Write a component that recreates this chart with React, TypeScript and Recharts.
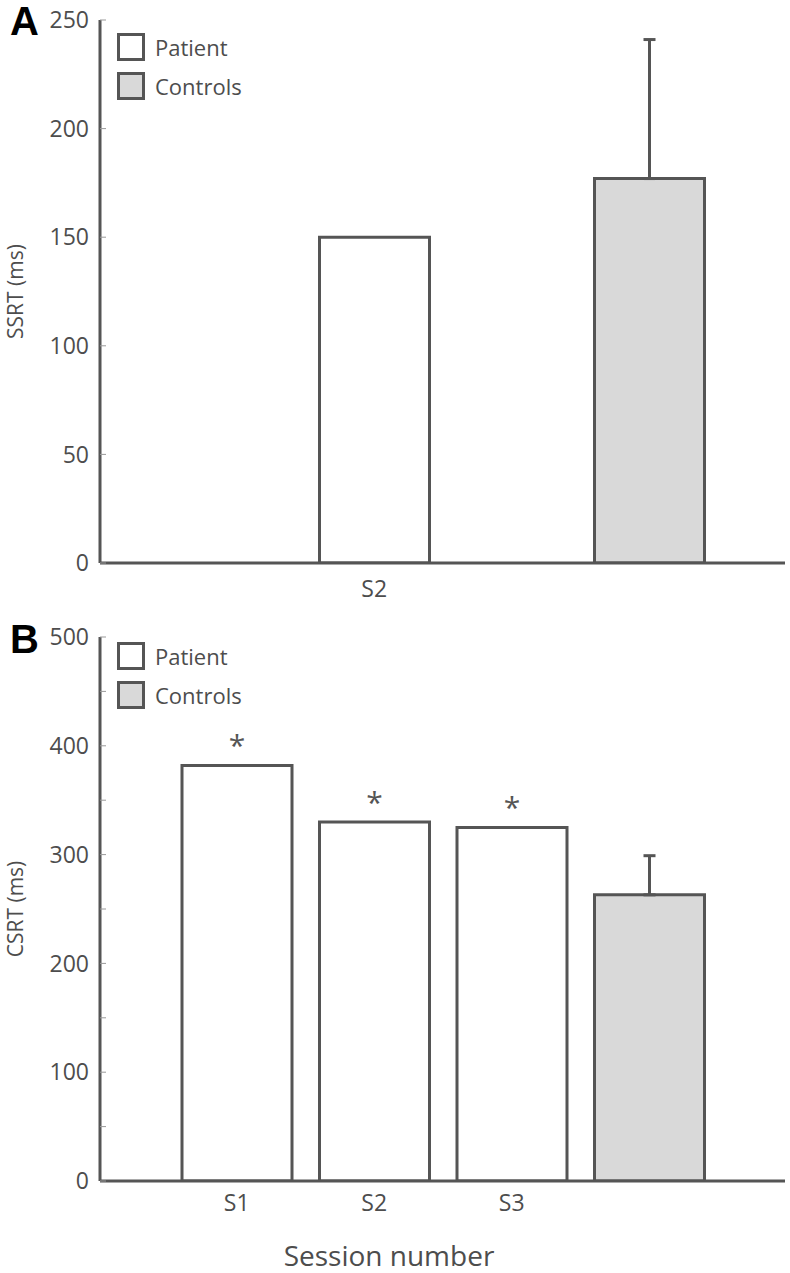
import React from 'react';
import { BarChart, Bar, XAxis, YAxis, ErrorBar, LabelList, Legend } from 'recharts';

const FONT = '"Open Sans", "Noto Sans", sans-serif';
const INK = '#555555';
const TEXT = '#4d4d4d';

// categories (x positions shared by both panels)
const sessions = ['S1', 'S2', 'S3', 'Controls'];
const legendOrder = ['Patient', 'Controls'];

// Panel A: SSRT (ms)
const ssrtPatient = [null, 150, null, null];
const ssrtControls = [null, null, null, 177];
const ssrtControlsErr = [null, null, null, 64];
const ssrtTicks = [0, 50, 100, 150, 200, 250];
const ssrtShownLabels = ['S2'];

// Panel B: CSRT (ms)
const csrtPatient = [382, 330, 325, null];
const csrtControls = [null, null, null, 263];
const csrtControlsErr = [null, null, null, 36];
const csrtSig = ['*', '*', '*', null];
const csrtTicks = [0, 50, 100, 150, 200, 250, 300, 350, 400, 450, 500];
const csrtShownLabels = ['S1', 'S2', 'S3'];

const dataA = sessions.map((s, i) => ({
  session: s,
  patient: ssrtPatient[i],
  controls: ssrtControls[i],
  err: ssrtControlsErr[i] == null ? null : [0, ssrtControlsErr[i]],
}));

const dataB = sessions.map((s, i) => ({
  session: s,
  patient: csrtPatient[i],
  controls: csrtControls[i],
  err: csrtControlsErr[i] == null ? null : [0, csrtControlsErr[i]],
  sig: csrtSig[i],
}));

const LegendContent = (props: any) => {
  const items = [...(props.payload || [])].sort(
    (a: any, b: any) => legendOrder.indexOf(a.value) - legendOrder.indexOf(b.value)
  );
  return (
    <div>
      {items.map((p: any, i: number) => (
        <div key={i} style={{ display: 'flex', alignItems: 'center', height: 39 }}>
          <div
            style={{
              width: 22,
              height: 22,
              border: `3px solid ${INK}`,
              background: p.color,
              boxSizing: 'content-box',
            }}
          />
          <span style={{ marginLeft: 10, fontSize: 22, color: TEXT, fontFamily: FONT }}>{p.value}</span>
        </div>
      ))}
    </div>
  );
};

const makeYLabel = (text: string) => (props: any) => {
  const vb = props.viewBox || {};
  const cy = (vb.y || 0) + (vb.height || 0) / 2;
  const x = 15;
  return (
    <text
      x={x}
      y={cy}
      transform={`rotate(-90, ${x}, ${cy})`}
      textAnchor="middle"
      dominantBaseline="central"
      fill={TEXT}
      fontSize={21}
      fontFamily={FONT}
    >
      {text}
    </text>
  );
};

const SessionLabel = (props: any) => (
  <text x={389} y={666} textAnchor="middle" fill={TEXT} fontSize={28} fontFamily={FONT}>
    Session number
  </text>
);

const tickStyle = { fill: TEXT, fontSize: 23, fontFamily: FONT };

export default function App() {
  return (
    <div style={{ position: 'absolute', left: 0, top: 0, width: 790, height: 1273, background: '#fff' }}>
      <div
        style={{
          position: 'absolute', left: 10, top: 1, fontSize: 40, lineHeight: '40px',
          fontWeight: 'bold', fontFamily: '"Liberation Sans", Arial, sans-serif', color: '#000',
        }}
      >
        A
      </div>
      <div
        style={{
          position: 'absolute', left: 10, top: 619, fontSize: 40, lineHeight: '40px',
          fontWeight: 'bold', fontFamily: '"Liberation Sans", Arial, sans-serif', color: '#000',
        }}
      >
        B
      </div>

      <div style={{ position: 'absolute', left: 0, top: 0 }}>
        <BarChart width={790} height={615} data={dataA} margin={{ top: 20, right: 5, bottom: 0, left: 0 }}>
          <XAxis
            dataKey="session"
            type="category"
            padding={{ left: 68, right: 67 }}
            height={52}
            tickLine={false}
            tickSize={0}
            tickMargin={18}
            axisLine={{ stroke: INK, strokeWidth: 3 }}
            tick={tickStyle}
            interval={0}
            tickFormatter={(v: string) => (ssrtShownLabels.includes(v) ? v : '')}
          />
          <YAxis
            type="number"
            domain={[0, 250]}
            ticks={ssrtTicks}
            interval={0}
            width={100}
            axisLine={{ stroke: INK, strokeWidth: 3 }}
            tickLine={{ stroke: '#999', strokeWidth: 1 }}
            tickSize={-6}
            tickMargin={17}
            tick={tickStyle}
            allowDataOverflow
            label={{ content: makeYLabel('SSRT (ms)') }}
          />
          <Legend
            layout="horizontal"
            verticalAlign="middle"
            align="center"
            content={<LegendContent />}
            wrapperStyle={{ left: 117, top: 27.5, width: 'auto' }}
          />
          <Bar dataKey="patient" name="Patient" stackId="s" fill="#ffffff" stroke={INK} strokeWidth={3} barSize={110} isAnimationActive={false} />
          <Bar dataKey="controls" name="Controls" stackId="s" fill="#d9d9d9" stroke={INK} strokeWidth={3} barSize={110} isAnimationActive={false}>
            <ErrorBar dataKey="err" width={6} stroke={INK} strokeWidth={3} direction="y" isAnimationActive={false} />
          </Bar>
        </BarChart>
      </div>

      <div style={{ position: 'absolute', left: 0, top: 600 }}>
        <BarChart width={790} height={673} data={dataB} margin={{ top: 37, right: 5, bottom: 0, left: 0 }}>
          <XAxis
            dataKey="session"
            type="category"
            padding={{ left: 68, right: 67 }}
            height={92}
            tickLine={false}
            tickSize={0}
            tickMargin={14}
            axisLine={{ stroke: INK, strokeWidth: 3 }}
            tick={tickStyle}
            interval={0}
            tickFormatter={(v: string) => (csrtShownLabels.includes(v) ? v : '')}
            label={{ content: <SessionLabel /> }}
          />
          <YAxis
            type="number"
            domain={[0, 500]}
            ticks={csrtTicks}
            interval={0}
            width={100}
            axisLine={{ stroke: INK, strokeWidth: 3 }}
            tickLine={{ stroke: '#999', strokeWidth: 1 }}
            tickSize={-6}
            tickMargin={17}
            tick={tickStyle}
            tickFormatter={(v: number) => (v % 100 === 0 ? String(v) : '')}
            allowDataOverflow
            label={{ content: makeYLabel('CSRT (ms)') }}
          />
          <Legend
            layout="horizontal"
            verticalAlign="middle"
            align="center"
            content={<LegendContent />}
            wrapperStyle={{ left: 117, top: 36.5, width: 'auto' }}
          />
          <Bar dataKey="patient" name="Patient" stackId="s" fill="#ffffff" stroke={INK} strokeWidth={3} barSize={110} isAnimationActive={false}>
            <LabelList dataKey="sig" position="top" offset={9} fill={INK} fontSize={30} fontFamily={FONT} />
          </Bar>
          <Bar dataKey="controls" name="Controls" stackId="s" fill="#d9d9d9" stroke={INK} strokeWidth={3} barSize={110} isAnimationActive={false}>
            <ErrorBar dataKey="err" width={6} stroke={INK} strokeWidth={3} direction="y" isAnimationActive={false} />
          </Bar>
        </BarChart>
      </div>
    </div>
  );
}
